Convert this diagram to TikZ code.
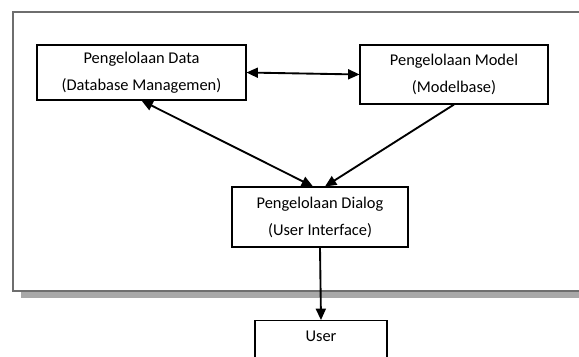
\documentclass[tikz,border=0pt]{standalone}
\usepackage{fontspec}
\setmainfont{Carlito}
\usepackage{xcolor}
\usetikzlibrary{arrows.meta,positioning}
\definecolor{framegray}{HTML}{6E6E6E}
\definecolor{shadowgray}{HTML}{A8A8A8}

\begin{document}
\begin{tikzpicture}[
  x=0.03cm, y=-0.03cm,
  font=\fontsize{14}{23}\selectfont,
  box/.style={draw=black,line width=0.9pt,fill=white,align=center,inner sep=2pt},
  flow/.style={-{Triangle[length=0.34cm,width=0.3cm]},line width=1.6pt,draw=black},
  bflow/.style={{Triangle[length=0.34cm,width=0.3cm]}-{Triangle[length=0.34cm,width=0.3cm]},
    line width=1.6pt,draw=black}
]
  \useasboundingbox (0,0) rectangle (579,356);

  % Outer frame with shadow
  \fill[shadowgray] (21,19) rectangle (610,298);
  \draw[framegray,line width=1.3pt,fill=white] (13,12) rectangle (602,291);

  % Subsystems
  \node[box,minimum width=6.27cm,minimum height=1.65cm] (data) at (141.5,72.5)
    {Pengelolaan Data\\(Database Managemen)};
  \node[box,minimum width=5.64cm,minimum height=1.77cm] (model) at (454,74.5)
    {Pengelolaan Model\\(Modelbase)};
  \node[box,minimum width=5.28cm,minimum height=1.80cm] (dialog) at (320,217)
    {Pengelolaan Dialog\\(User Interface)};
  \node[box,minimum width=3.96cm,anchor=north,inner ysep=0.3cm,text depth=1.5cm]
    (user) at (321,320) {User};

  % Connections
  \draw[bflow] (data.east) -- (model.west);
  \draw[bflow] (data.south) -- ([xshift=-0.21cm]dialog.north);
  \draw[flow] (model.south) -- ([xshift=0.15cm]dialog.north);
  \draw[flow] (dialog.south) -- (user.north);
\end{tikzpicture}
\end{document}
